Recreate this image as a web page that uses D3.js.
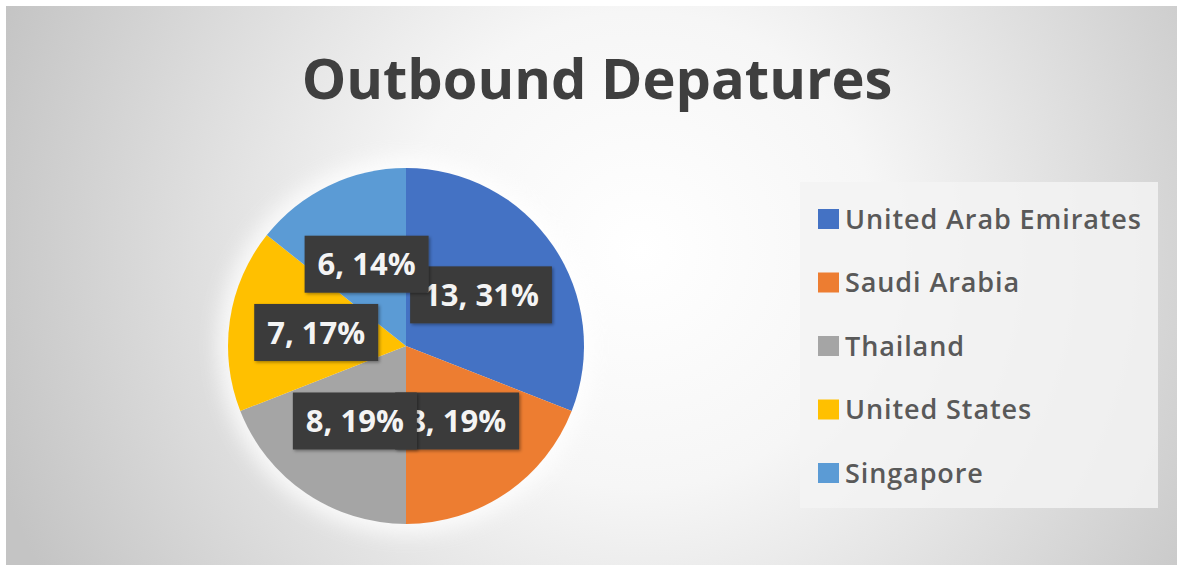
<!DOCTYPE html>
<html>
<head>
<meta charset="utf-8">
<script src="https://cdn.jsdelivr.net/npm/d3@7"></script>
<style>
  html, body { margin: 0; padding: 0; background: #ffffff; }
  svg { display: block; }
</style>
</head>
<body>
<svg id="chart" width="1177" height="565"></svg>
<script>
// Outbound departures by destination
const categories = ["United Arab Emirates", "Saudi Arabia", "Thailand", "United States", "Singapore"];
const departures = [13, 8, 8, 7, 6];
const percentLabels = ["31%", "19%", "19%", "17%", "14%"];
const sliceColors = ["#4472C4", "#ED7D31", "#A5A5A5", "#FFC000", "#5B9BD5"];
const chartTitle = "Outbound Depatures";

const W = 1177, H = 565;
const svg = d3.select("#chart");
const defs = svg.append("defs");

// Background: soft radial grey gradient
const bg = defs.append("radialGradient")
  .attr("id", "bgGrad")
  .attr("gradientUnits", "userSpaceOnUse")
  .attr("cx", 640).attr("cy", 250).attr("r", 680);
bg.append("stop").attr("offset", 0).attr("stop-color", "#ffffff");
bg.append("stop").attr("offset", 0.35).attr("stop-color", "#f6f6f6");
bg.append("stop").attr("offset", 1).attr("stop-color", "#c4c4c4");

const halo = defs.append("filter").attr("id", "halo")
  .attr("x", "-30%").attr("y", "-30%").attr("width", "160%").attr("height", "160%");
halo.append("feGaussianBlur").attr("stdDeviation", 10);

const shadow = defs.append("filter").attr("id", "boxShadow")
  .attr("x", "-20%").attr("y", "-20%").attr("width", "140%").attr("height", "140%");
shadow.append("feDropShadow").attr("dx", 1.5).attr("dy", 1.5)
  .attr("stdDeviation", 1.5).attr("flood-color", "#000").attr("flood-opacity", 0.35);

svg.append("rect").attr("x", 0).attr("y", 0).attr("width", W).attr("height", H).attr("fill", "#ffffff");
svg.append("rect").attr("x", 6).attr("y", 6).attr("width", W - 6).attr("height", H - 6)
  .attr("fill", "url(#bgGrad)");

// Title
svg.append("text")
  .attr("x", 597).attr("y", 99)
  .attr("text-anchor", "middle")
  .attr("font-family", "'Open Sans', Lato, sans-serif")
  .attr("font-weight", 700)
  .attr("font-size", 56)
  .attr("fill", "#3f3f3f")
  .text(chartTitle);

// Pie
const cx = 406, cy = 346, R = 178;
const g = svg.append("g").attr("transform", `translate(${cx},${cy})`);

g.append("circle").attr("r", R + 10).attr("fill", "#ffffff").attr("opacity", 0.8)
  .attr("filter", "url(#halo)");

const data = categories.map((c, i) => ({ name: c, value: departures[i], pct: percentLabels[i], color: sliceColors[i] }));
const pie = d3.pie().value(d => d.value).sort(null);
const arcs = pie(data);
const arc = d3.arc().innerRadius(0).outerRadius(R);

g.selectAll("path.slice").data(arcs).enter().append("path")
  .attr("class", "slice")
  .attr("d", arc)
  .attr("fill", d => d.data.color);

// Data labels: dark callout boxes with "value, percent"
const labelArc = d3.arc().innerRadius(R * 0.51).outerRadius(R * 0.51);
const labels = g.selectAll("g.label").data(arcs).enter().append("g")
  .attr("class", "label")
  .attr("transform", d => { const [x, y] = labelArc.centroid(d); return `translate(${x},${y})`; });

labels.each(function(d) {
  const lg = d3.select(this);
  const rect = lg.append("rect").attr("fill", "#3b3b3b").attr("filter", "url(#boxShadow)");
  const t = lg.append("text")
    .attr("text-anchor", "middle")
    .attr("dy", "0.36em")
    .attr("font-family", "'Open Sans', Lato, sans-serif")
    .attr("font-weight", 700)
    .attr("font-size", 31)
    .attr("fill", "#f4f4f4")
    .text(`${d.data.value}, ${d.data.pct}`);
  const w = t.node().getComputedTextLength() + 26;
  const h = 57;
  rect.attr("x", -w / 2).attr("y", -h / 2).attr("width", w).attr("height", h);
});

// Legend
const legendX = 800, legendY = 182, legendW = 358, legendH = 326;
svg.append("rect")
  .attr("x", legendX).attr("y", legendY).attr("width", legendW).attr("height", legendH)
  .attr("fill", "#f3f3f3").attr("opacity", 0.85);

const rowY = d3.scalePoint().domain(categories).range([219, 473]);
const leg = svg.selectAll("g.legend").data(data).enter().append("g")
  .attr("class", "legend")
  .attr("transform", d => `translate(818,${rowY(d.name)})`);
leg.append("rect").attr("x", 0).attr("y", -10).attr("width", 21).attr("height", 20)
  .attr("fill", d => d.color);
leg.append("text")
  .attr("x", 27).attr("dy", "0.36em")
  .attr("font-family", "'Open Sans', Lato, sans-serif")
  .attr("font-weight", 600)
  .attr("font-size", 27)
  .attr("letter-spacing", 0.9)
  .attr("fill", "#595959")
  .text(d => d.name);
</script>
</body>
</html>
